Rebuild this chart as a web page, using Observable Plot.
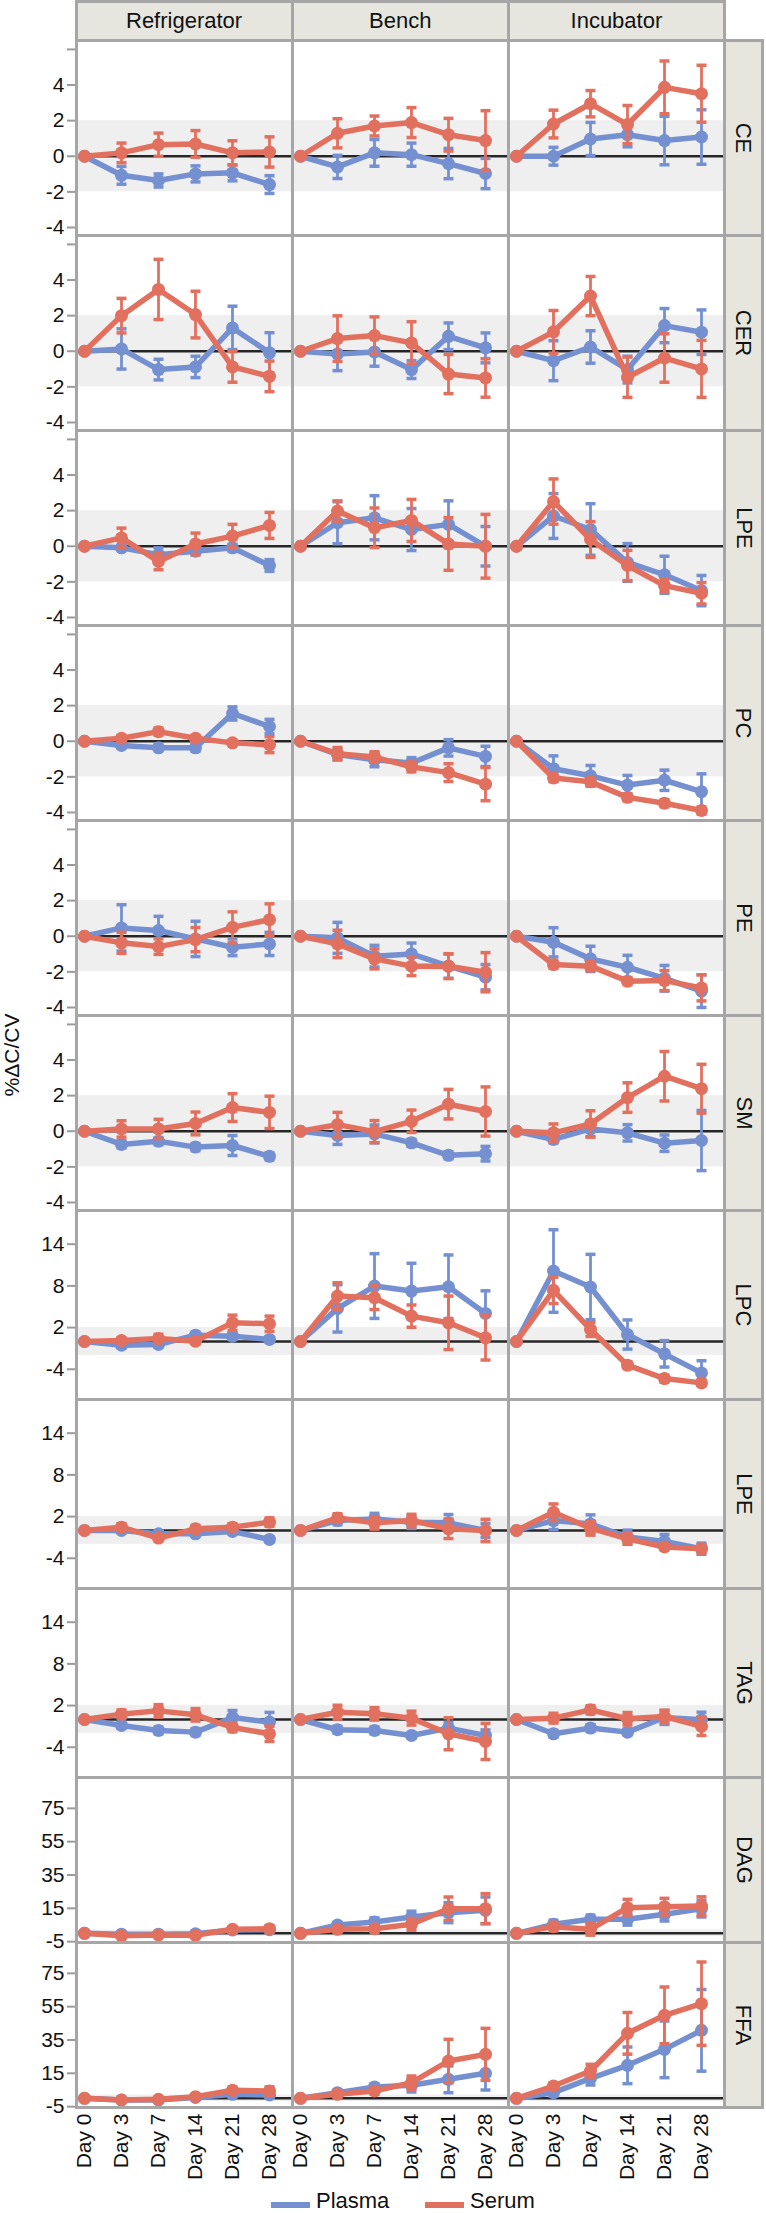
<!DOCTYPE html>
<html><head><meta charset="utf-8">
<script src="https://cdn.jsdelivr.net/npm/d3@7"></script>
<script src="https://cdn.jsdelivr.net/npm/@observablehq/plot@0.6"></script>
<style>
body{margin:0;background:#fff;font-family:"Liberation Sans",Arial,sans-serif;}
#root{position:relative;width:766px;height:2213px;overflow:hidden;background:#fff;}
.strip{position:absolute;background:#e6e6df;box-sizing:border-box;border:3px solid #a6a6a6;display:flex;align-items:center;justify-content:center;font-size:22px;color:#111;}
.strip span{white-space:nowrap;}
.rstrip span{transform:rotate(90deg);}
.plotwrap{position:absolute;left:0;}
.plotwrap svg{overflow:visible;}
.lg{position:absolute;font-size:22px;line-height:24px;color:#111;white-space:nowrap;}
.sw{position:absolute;height:6px;}
</style></head>
<body><div id="root"></div>
<script>
// ---- categories ----
const days = ["Day 0","Day 3","Day 7","Day 14","Day 21","Day 28"];
const conditions = ["Refrigerator","Bench","Incubator"];
const types = ["Plasma","Serum"];
const groupA = ["CE","CER","LPE","PC","PE","SM"];
const groupB = ["LPC","LPE","TAG"];
const groupC = ["DAG","FFA"];
const ticksA = [-4,-2,0,2,4,6];
const ticksB = [-4,2,8,14];
const ticksC = [-5,15,35,55,75];

// ---- values: [Refrigerator, Bench, Incubator] x 6 days ----
const ce_plasma = [[0,-1.07,-1.36,-0.99,-0.93,-1.59],[0,-0.6,0.19,0.09,-0.41,-0.97],[0,0,0.97,1.21,0.88,1.08]];
const ce_plasma_err = [[0,0.5,0.37,0.45,0.45,0.5],[0,0.65,0.75,0.65,0.85,0.85],[0,0.5,0.93,0.68,1.36,1.53]];
const ce_serum = [[0,0.19,0.65,0.69,0.19,0.24],[0,1.29,1.7,1.89,1.21,0.88],[0,1.81,2.95,1.78,3.87,3.51]];
const ce_serum_err = [[0,0.55,0.65,0.75,0.68,0.85],[0,0.82,0.56,0.84,0.92,1.68],[0,0.78,0.74,1.07,1.48,1.6]];

const cer_plasma = [[0,0.13,-1.03,-0.88,1.31,-0.09],[0,-0.15,-0.04,-1.03,0.84,0.19],[0,-0.53,0.24,-1.03,1.44,1.07]];
const cer_plasma_err = [[0,1.13,0.58,0.6,1.22,1.13],[0,0.94,0.8,0.5,0.75,0.84],[0,1.12,0.91,0.75,0.96,1.25]];
const cer_serum = [[0,2.0,3.47,2.06,-0.88,-1.41],[0,0.71,0.88,0.47,-1.28,-1.5],[0,1.09,3.1,-1.46,-0.38,-0.99]];
const cer_serum_err = [[0,0.97,1.69,1.31,0.86,0.86],[0,1.28,1.05,1.19,1.1,1.08],[0,1.2,1.1,1.13,1.36,1.6]];

const lpe_plasma = [[0,-0.09,-0.47,-0.28,-0.09,-1.08],[0,1.32,1.6,0.94,1.23,0],[0,1.7,0.94,-0.91,-1.6,-2.49]];
const lpe_plasma_err = [[0,0.12,0.38,0.2,0.2,0.33],[0,1.18,1.24,1.18,1.32,1.11],[0,1.26,1.45,1.06,1.04,0.85]];
const lpe_serum = [[0,0.47,-0.85,0.13,0.57,1.17],[0,1.98,1.04,1.45,0.13,0],[0,2.51,0.38,-1.08,-2.21,-2.64]];
const lpe_serum_err = [[0,0.55,0.47,0.61,0.66,0.73],[0,0.57,1.11,1.18,1.48,1.79],[0,1.27,1.0,0.85,0.33,0.6]];

const pc_plasma = [[0,-0.24,-0.37,-0.37,1.56,0.83],[0,-0.74,-1.04,-1.22,-0.37,-0.85],[0,-1.54,-1.94,-2.46,-2.19,-2.83]];
const pc_plasma_err = [[0,0.15,0.15,0.2,0.37,0.4],[0,0.3,0.39,0.3,0.46,0.57],[0,0.72,0.58,0.54,0.57,1.0]];
const pc_serum = [[0,0.17,0.54,0.17,-0.09,-0.19],[0,-0.7,-0.89,-1.44,-1.76,-2.41],[0,-2.06,-2.28,-3.15,-3.48,-3.89]];
const pc_serum_err = [[0,0.15,0.2,0.15,0.1,0.45],[0,0.35,0.3,0.28,0.5,0.93],[0,0.2,0.2,0.2,0.2,0.2]];

const pe_plasma = [[0,0.47,0.32,-0.15,-0.62,-0.43],[0,-0.09,-1.12,-0.99,-1.68,-2.3],[0,-0.34,-1.27,-1.74,-2.36,-3.08]];
const pe_plasma_err = [[0,1.3,0.8,0.99,0.47,0.65],[0,0.87,0.61,0.61,0.68,0.71],[0,0.82,0.71,0.67,0.72,0.92]];
const pe_serum = [[0,-0.37,-0.58,-0.19,0.5,0.93],[0,-0.43,-1.27,-1.68,-1.68,-2.02],[0,-1.59,-1.68,-2.52,-2.49,-2.9]];
const pe_serum_err = [[0,0.59,0.44,0.68,0.87,0.89],[0,0.77,0.56,0.53,0.7,1.1],[0,0.2,0.25,0.2,0.56,0.73]];

const sm_plasma = [[0,-0.74,-0.56,-0.89,-0.8,-1.41],[0,-0.24,-0.15,-0.65,-1.35,-1.26],[0,-0.46,0.13,-0.09,-0.67,-0.52]];
const sm_plasma_err = [[0,0.2,0.2,0.2,0.56,0.2],[0,0.5,0.5,0.2,0.2,0.41],[0,0.2,0.43,0.46,0.46,1.69]];
const sm_serum = [[0,0.13,0.13,0.44,1.33,1.06],[0,0.37,-0.02,0.56,1.52,1.11],[0,-0.09,0.41,1.89,3.09,2.39]];
const sm_serum_err = [[0,0.46,0.54,0.64,0.78,0.91],[0,0.69,0.62,0.63,0.83,1.38],[0,0.5,0.74,0.83,1.39,1.37]];

const lpc_plasma = [[0,-0.53,-0.43,0.91,0.77,0.29],[0,4.76,7.98,7.26,7.88,4.04],[0,10.14,7.84,1.0,-1.78,-4.52]];
const lpc_plasma_err = [[0,0.4,0.4,0.4,0.5,0.4],[0,3.4,4.66,4.0,4.57,3.25],[0,5.94,4.7,2.1,1.9,1.75]];
const lpc_serum = [[0,0.14,0.43,0.05,2.69,2.55],[0,6.54,6.3,3.65,2.69,0.53],[0,7.36,1.73,-3.41,-5.34,-5.96]];
const lpc_serum_err = [[0,0.4,0.6,0.4,1.1,1.1],[0,1.92,1.7,1.6,3.85,3.2],[0,1.9,1.0,0.5,0.5,0.4]];

const lpe2_plasma = [[0,0,-0.48,-0.48,-0.14,-1.29],[0,1.43,1.67,1.19,1.1,0],[0,1.43,0.95,-0.95,-1.57,-2.62]];
const lpe2_plasma_err = [[0,0.3,0.4,0.3,0.3,0.4],[0,0.6,0.8,0.9,1.2,1.0],[0,1.3,1.3,1.0,1.0,0.8]];
const lpe2_serum = [[0,0.48,-1.1,0.24,0.48,1.2],[0,1.81,1.1,1.43,0.24,0],[0,2.62,0.33,-1.19,-2.38,-2.62]];
const lpe2_serum_err = [[0,0.5,0.4,0.5,0.5,0.6],[0,0.6,0.9,0.9,1.4,1.6],[0,1.2,1.0,0.8,0.4,0.6]];

const tag_plasma = [[0,-0.86,-1.58,-1.82,0.29,-0.38],[0,-1.48,-1.58,-2.3,-1.24,-2.3],[0,-2.06,-1.24,-1.82,0.29,-0.05]];
const tag_plasma_err = [[0,0.4,0.5,0.5,1.0,1.4],[0,0.5,0.5,0.4,0.8,0.8],[0,0.5,0.5,0.4,1.0,1.1]];
const tag_serum = [[0,0.77,1.24,0.67,-1.15,-2.06],[0,1.05,0.81,0.19,-2.06,-3.16],[0,0.19,1.39,0.1,0.43,-1.0]];
const tag_serum_err = [[0,0.6,0.9,0.9,0.6,1.1],[0,1.0,0.9,1.0,2.3,2.6],[0,0.7,0.6,0.9,0.9,1.3]];

const dag_plasma = [[0,-0.5,-0.5,-0.3,2.0,2.2],[0,5,6.8,9.8,12.4,13.8],[0,5.4,8.4,8.4,11.4,14.8]];
const dag_plasma_err = [[0,0.5,0.5,0.5,1,1],[0,1.5,2.5,3.5,6,8],[0,2.5,2.5,3.5,4,5]];
const dag_serum = [[0,-1.5,-1.0,-1.2,2.4,2.8],[0,2.4,2.8,5.4,14.8,14.8],[0,4.0,2.4,15.4,16,16.4]];
const dag_serum_err = [[0,0.8,0.8,0.8,1.5,1.8],[0,1.5,2,3.5,7,9],[0,2.5,3.5,5,5,5.5]];

const ffa_plasma = [[0,-1,-1,0.5,2.4,2],[0,3.4,6.8,7.8,11.4,15],[0,3.4,12,19.8,29.4,40.8]];
const ffa_plasma_err = [[0,0.5,0.5,0.8,1,1],[0,1.5,2,4,8,10],[0,2,4,11,17,24.5]];
const ffa_serum = [[0,-1,-0.6,1,4.8,4.4],[0,2.4,4.4,9.4,22.4,26.4],[0,7.4,16.4,39,49.8,56.8]];
const ffa_serum_err = [[0,0.5,0.5,0.8,2,2.5],[0,1.5,2,4,13,15.6],[0,2,4,12.5,17,25]];

// ---- build tables ----
function build(analyte, series) {
  const out = [];
  series.forEach(([type, means, errs]) => {
    conditions.forEach((cond, ci) => {
      days.forEach((day, di) => {
        out.push({analyte, cond, day, type, mean: means[ci][di], err: errs[ci][di]});
      });
    });
  });
  return out;
}
const rowsA = [].concat(
  build("CE", [["Plasma", ce_plasma, ce_plasma_err], ["Serum", ce_serum, ce_serum_err]]),
  build("CER", [["Plasma", cer_plasma, cer_plasma_err], ["Serum", cer_serum, cer_serum_err]]),
  build("LPE", [["Plasma", lpe_plasma, lpe_plasma_err], ["Serum", lpe_serum, lpe_serum_err]]),
  build("PC", [["Plasma", pc_plasma, pc_plasma_err], ["Serum", pc_serum, pc_serum_err]]),
  build("PE", [["Plasma", pe_plasma, pe_plasma_err], ["Serum", pe_serum, pe_serum_err]]),
  build("SM", [["Plasma", sm_plasma, sm_plasma_err], ["Serum", sm_serum, sm_serum_err]])
);
const rowsB = [].concat(
  build("LPC", [["Plasma", lpc_plasma, lpc_plasma_err], ["Serum", lpc_serum, lpc_serum_err]]),
  build("LPE", [["Plasma", lpe2_plasma, lpe2_plasma_err], ["Serum", lpe2_serum, lpe2_serum_err]]),
  build("TAG", [["Plasma", tag_plasma, tag_plasma_err], ["Serum", tag_serum, tag_serum_err]])
);
const rowsC = [].concat(
  build("DAG", [["Plasma", dag_plasma, dag_plasma_err], ["Serum", dag_serum, dag_serum_err]]),
  build("FFA", [["Plasma", ffa_plasma, ffa_plasma_err], ["Serum", ffa_serum, ffa_serum_err]])
);

// ---- styling ----
const BLUE = "#7590d0", RED = "#e2705f";
const FRAME = "#a6a6a6";
const FONT = "'Liberation Sans', Arial, sans-serif";
const ML = 76, MR = 41.5, W = 766;
const cap = {draw(ctx, size) { const r = Math.sqrt(size / Math.PI); ctx.moveTo(-r, 0); ctx.lineTo(r, 0); }};
const fmt = (hidden) => d => hidden.includes(d) ? "" : (d < 0 ? "-" + Math.abs(d) : String(d));

function seriesMarks(rows) {
  const marks = [];
  types.forEach(t => {
    const isT = d => d.type === t;
    const hasErr = d => d.type === t && d.err > 0;
    marks.push(
      Plot.line(rows, {filter: isT, x: "day", y: "mean", stroke: "type", strokeWidth: 5.5, strokeLinejoin: "round"}),
      Plot.ruleX(rows, {filter: hasErr, x: "day", y1: d => d.mean - d.err, y2: d => d.mean + d.err, stroke: "type", strokeWidth: 2.8}),
      Plot.dot(rows, {filter: hasErr, x: "day", y: d => d.mean + d.err, symbol: cap, r: 5, fill: "none", stroke: "type", strokeWidth: 3.5}),
      Plot.dot(rows, {filter: hasErr, x: "day", y: d => d.mean - d.err, symbol: cap, r: 5, fill: "none", stroke: "type", strokeWidth: 3.5}),
      Plot.dot(rows, {filter: isT, x: "day", y: "mean", r: 6.5, fill: "type", stroke: "none"})
    );
  });
  return marks;
}

function makePlot(rows, fyDomain, yDomain, yTicks, hiddenTicks, innerH, showX) {
  const mb = showX ? 90 : 0;
  return Plot.plot({
    width: W, height: innerH + mb,
    marginLeft: ML, marginRight: MR, marginTop: 0, marginBottom: mb,
    style: {fontFamily: FONT, fontSize: "21px", color: "#111", background: "transparent", overflow: "visible"},
    facet: {data: rows, x: "cond", y: "analyte"},
    fx: {domain: conditions, padding: 0, axis: null, label: null},
    fy: {domain: fyDomain, padding: 0, axis: null, label: null},
    x: {type: "point", domain: days, padding: 0.365, align: 0.27, axis: showX ? "bottom" : null,
        tickRotate: -90, tickSize: 0, tickPadding: 6, label: null},
    y: {domain: yDomain, axis: null},
    color: {domain: types, range: [BLUE, RED]},
    marks: [
      Plot.rect([0], {y1: -2, y2: 2, fill: "#efefef"}),
      Plot.ruleY([0], {stroke: "#262626", strokeWidth: 2.5}),
      Plot.axisY({ticks: yTicks, tickFormat: fmt(hiddenTicks), tickSize: 9, tickPadding: 3,
                  stroke: "#9a9a9a", strokeWidth: 2, fill: "#111", label: null}),
      ...seriesMarks(rows),
      Plot.frame({stroke: FRAME, strokeWidth: 3})
    ]
  });
}

const root = document.getElementById("root");
function place(el, top) {
  const wrap = document.createElement("div");
  wrap.className = "plotwrap";
  wrap.style.top = top + "px";
  wrap.appendChild(el);
  root.appendChild(wrap);
}
const TOP_A = 40, H_A = 1170, TOP_B = 1210, H_B = 567, TOP_C = 1777, H_C = 330;
place(makePlot(rowsA, groupA, [-4.45, 6.5], ticksA, [6], H_A, false), TOP_A);
place(makePlot(rowsB, groupB, [-8.35, 18.85], ticksB, [], H_B, false), TOP_B);
place(makePlot(rowsC, groupC, [-5.5, 93.5], ticksC, [], H_C, true), TOP_C);

// ---- strips ----
const colW = (W - ML - MR) / conditions.length;
conditions.forEach((c, i) => {
  const d = document.createElement("div");
  d.className = "strip";
  Object.assign(d.style, {left: (ML + colW * i - 1.5) + "px", top: "0px", width: (colW + 3) + "px", height: "41.5px"});
  d.innerHTML = "<span></span>";
  d.firstChild.textContent = c;
  root.appendChild(d);
});
function rightStrips(names, top, h) {
  const rh = h / names.length;
  names.forEach((n, i) => {
    const d = document.createElement("div");
    d.className = "strip rstrip";
    Object.assign(d.style, {left: (W - MR - 1.5) + "px", top: (top + rh * i - 1.5) + "px", width: (MR - 0.5) + "px", height: (rh + 3) + "px"});
    d.innerHTML = "<span></span>";
    d.firstChild.textContent = n;
    root.appendChild(d);
  });
}
rightStrips(groupA, TOP_A, H_A);
rightStrips(groupB, TOP_B, H_B);
rightStrips(groupC, TOP_C, H_C);

// ---- y title ----
const yt = document.createElement("div");
Object.assign(yt.style, {position: "absolute", left: "12px", top: "1055px", transform: "translate(-50%,-50%) rotate(-90deg)", fontSize: "21px", whiteSpace: "nowrap", color: "#111"});
yt.textContent = "%ΔC/CV";
root.appendChild(yt);

// ---- legend ----
const legendX = [271, 425];
types.forEach((t, i) => {
  const sw = document.createElement("div");
  sw.className = "sw";
  Object.assign(sw.style, {left: legendX[i] + "px", top: "2202px", width: "39px", background: i ? RED : BLUE});
  const tx = document.createElement("div");
  tx.className = "lg";
  Object.assign(tx.style, {left: (legendX[i] + 45) + "px", top: "2189px"});
  tx.textContent = t;
  root.appendChild(sw); root.appendChild(tx);
});
</script>
</body></html>
